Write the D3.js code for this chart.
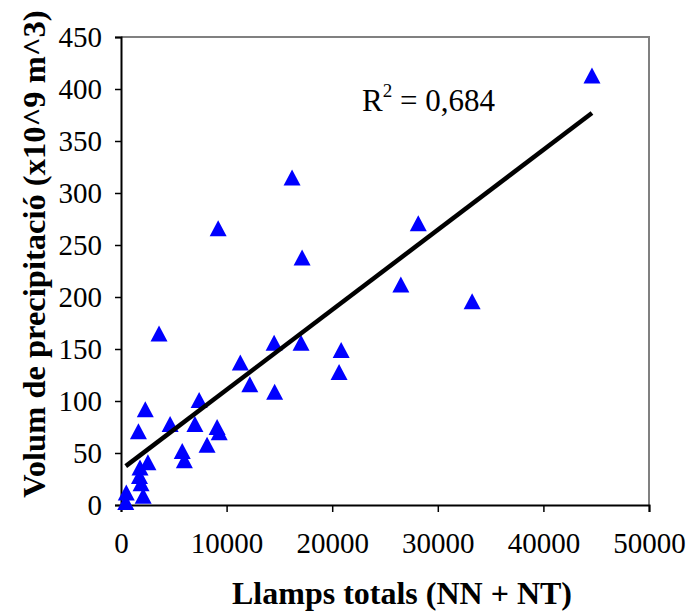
<!DOCTYPE html>
<html><head><meta charset="utf-8">
<script src="https://cdn.jsdelivr.net/npm/d3@7"></script>
<style>body{margin:0;background:#fff}</style>
</head><body>
<svg id="c" width="695" height="612"></svg>
<script>
const llamps = [44600,28150,33250,26500,16200,9200,17150,3600,14500,17050,20850,20650,11300,12200,14550,7400,2300,4650,7000,1650,9100,9300,8150,5800,6000,2550,1800,1750,1900,2100,500,450];
const volum  = [413,271,196,212,315,266,238,165,156,156,149,128,137,116,109,101,92,78,78,71,75,70,58,52,43,41,36,28,21,9,12,3];
const xTicks = [0,10000,20000,30000,40000,50000];
const yTicks = [0,50,100,150,200,250,300,350,400,450];
const trendSlope = 0.00769;
const trendIntercept = 33.9;
const r2Label = "0,684";
const xTitle = "Llamps totals (NN + NT)";
const yTitle = "Volum de precipitació (x10^9 m^3)";

const svg = d3.select("#c");
const m = {l:121, t:37, r:46, b:107};
const W = 695, H = 612;
const x = d3.scaleLinear().domain([0,50000]).range([m.l, W-m.r]);
const y = d3.scaleLinear().domain([0,450]).range([H-m.b, m.t]);
const font = "'Liberation Serif','Times New Roman',serif";

svg.append("path")
  .attr("d", `M${x(0)},${y(450)}H${x(50000)}V${y(0)}`)
  .attr("fill","none").attr("stroke","#808080").attr("stroke-width",2);

const xa = svg.append("g").attr("transform",`translate(0,${y(0)})`)
  .call(d3.axisBottom(x).tickValues(xTicks).tickFormat(d3.format("d")).tickSizeOuter(0).tickSize(7).tickPadding(20));
const ya = svg.append("g").attr("transform",`translate(${x(0)},0)`)
  .call(d3.axisLeft(y).tickValues(yTicks).tickSizeOuter(0).tickSize(6).tickPadding(13));
[xa,ya].forEach(a=>{
  a.select(".domain").attr("stroke","#000").attr("stroke-width",2);
  a.selectAll(".tick line").attr("stroke","#000").attr("stroke-width",1.5);
  a.selectAll("text").attr("font-family",font).attr("font-size",29).attr("fill","#000");
});

const tw = 17, th = 16;
svg.append("g").selectAll("path").data(llamps.map((v,i)=>[v,volum[i]])).join("path")
  .attr("d", `M0,${-th/2}L${tw/2},${th/2}L${-tw/2},${th/2}Z`)
  .attr("transform", d=>`translate(${x(d[0])},${y(d[1])})`)
  .attr("fill","#0000ff");

const xmin = d3.min(llamps), xmax = d3.max(llamps);
svg.append("line")
  .attr("x1",x(xmin)).attr("y1",y(trendIntercept+trendSlope*xmin))
  .attr("x2",x(xmax)).attr("y2",y(trendIntercept+trendSlope*xmax))
  .attr("stroke","#000").attr("stroke-width",4.5);

const t = svg.append("text").attr("x",362).attr("y",111).attr("font-family",font).attr("font-size",31).attr("fill","#000");
t.append("tspan").text("R");
t.append("tspan").attr("font-size",19).attr("dy",-14).text("2");
t.append("tspan").attr("dy",14).text(" = " + r2Label);

svg.append("text").attr("x",402).attr("y",604).attr("text-anchor","middle")
  .attr("font-family",font).attr("font-weight","bold").attr("font-size",32).text(xTitle);
svg.append("text").attr("transform","translate(45,254) rotate(-90)").attr("text-anchor","middle")
  .attr("font-family",font).attr("font-weight","bold").attr("font-size",32.5).text(yTitle);
</script>
</body></html>
